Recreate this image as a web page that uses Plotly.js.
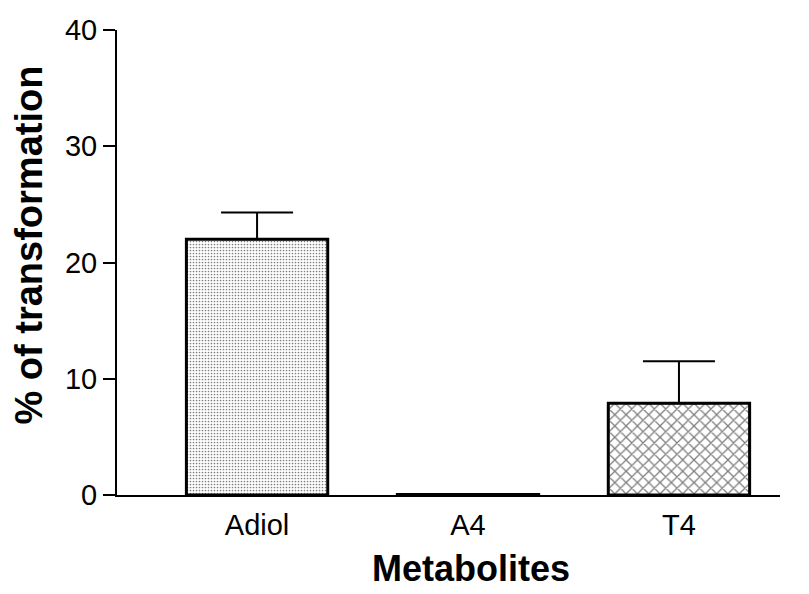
<!DOCTYPE html>
<html><head><meta charset="utf-8">
<script src="https://cdn.plot.ly/plotly-3.0.1.min.js"></script>
<style>html,body{margin:0;padding:0;background:#fff}</style>
</head><body>
<div id="chart" style="width:809px;height:594px"></div>
<script>
const categories = ["Adiol", "A4", "T4"];
const values = [22.0, 0.05, 7.9];
const errorsUp = [2.3, 0, 3.6];
const patterns = [".", "", "x"];
const yTicks = [0, 10, 20, 30, 40];

const trace = {
  type: "bar",
  x: [0, 1, 2],
  y: values,
  width: 0.67,
  marker: {
    color: "white",
    line: {color: "black", width: 3},
    pattern: {shape: patterns, fgcolor: "black", bgcolor: "white", size: [3, 8, 8], solidity: [0.25, 0.2, 0.3], fillmode: "overlay"}
  },
  error_y: {type: "data", symmetric: false, array: errorsUp, arrayminus: [0,0,0], color: "black", thickness: 2, width: 36},
  hoverinfo: "none"
};

const layout = {
  width: 809, height: 594,
  margin: {l: 117, r: 29, t: 30, b: 99},
  paper_bgcolor: "white", plot_bgcolor: "white",
  showlegend: false,
  font: {family: "Arial, 'Liberation Sans', sans-serif", color: "black"},
  xaxis: {
    range: [-0.664, 2.479],
    tickvals: [0, 1, 2], ticktext: categories,
    showline: true, linecolor: "black", linewidth: 2,
    ticks: "", showgrid: false, zeroline: false,
    tickfont: {size: 29}, ticklabelstandoff: 3
  },
  yaxis: {
    range: [0, 40],
    tickvals: yTicks,
    showline: true, linecolor: "black", linewidth: 2,
    ticks: "outside", ticklen: 12, tickwidth: 2, tickcolor: "black",
    showgrid: false, zeroline: false,
    tickfont: {size: 29}
  },
  annotations: [{
    text: "<b>% of transformation</b>", textangle: -90,
    xref: "paper", yref: "paper", x: -0.1327, y: 0.5366,
    xanchor: "center", yanchor: "middle", showarrow: false,
    font: {size: 38}
  }, {
    text: "<b>Metabolites</b>",
    xref: "paper", yref: "paper", x: 0.534, y: -0.157,
    xanchor: "center", yanchor: "middle", showarrow: false,
    font: {size: 36}
  }]
};

Plotly.newPlot("chart", [trace], layout, {staticPlot: true, displayModeBar: false});
</script>
</body></html>
